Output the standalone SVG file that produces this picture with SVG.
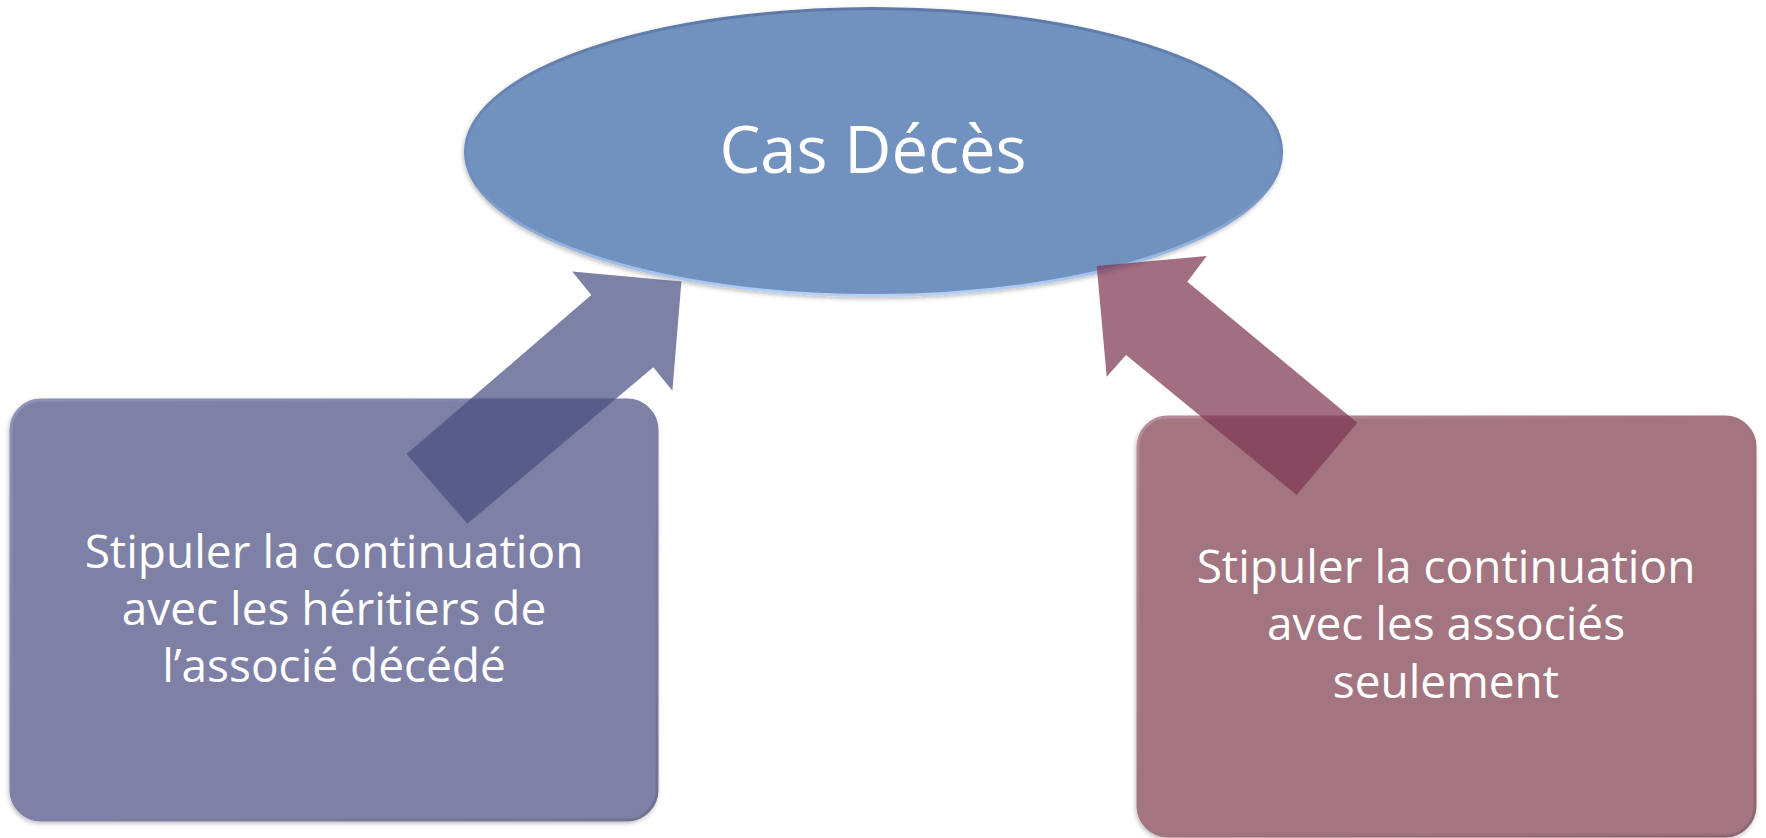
<svg xmlns="http://www.w3.org/2000/svg" width="1766" height="838" viewBox="0 0 1766 838">
  <defs>
    <linearGradient id="ellStroke" x1="0" y1="0" x2="0" y2="1">
      <stop offset="0" stop-color="#5E79A6"/>
      <stop offset="0.6" stop-color="#6F8DBD"/>
      <stop offset="1" stop-color="#B4D0F6"/>
    </linearGradient>
    <linearGradient id="leftStroke" x1="0" y1="0" x2="1" y2="1">
      <stop offset="0" stop-color="#8F91BA"/>
      <stop offset="0.5" stop-color="#7E80A5"/>
      <stop offset="1" stop-color="#6F7194"/>
    </linearGradient>
    <linearGradient id="rightStroke" x1="0" y1="0" x2="1" y2="1">
      <stop offset="0" stop-color="#B68A98"/>
      <stop offset="0.5" stop-color="#A27480"/>
      <stop offset="1" stop-color="#906470"/>
    </linearGradient>
    <filter id="soft" x="-5%" y="-5%" width="110%" height="110%">
      <feDropShadow dx="-1" dy="2" stdDeviation="2" flood-color="#000" flood-opacity="0.25"/>
    </filter>
  </defs>
  <style>
    .lbl { font-family: "Open Sans", "Noto Sans", sans-serif; fill: #FFFFFF; text-anchor: middle; }
    .big { font-size: 65px; }
    .box { font-size: 46px; }
  </style>
  <rect width="1766" height="838" fill="#FFFFFF"/>

  <g id="node-cas-deces">
    <ellipse cx="873.5" cy="152" rx="408" ry="143.5" fill="#7191BF" stroke="url(#ellStroke)" stroke-width="3" filter="url(#soft)"/>
    <text class="lbl big" x="873" y="173">Cas Décès</text>
  </g>

  <g id="node-heritiers">
    <rect x="11" y="400" width="646" height="420" rx="30" ry="30" fill="#7E80A5" stroke="url(#leftStroke)" stroke-width="3" filter="url(#soft)"/>
    <text class="lbl box" x="334" y="568">Stipuler la continuation</text>
    <text class="lbl box" x="334" y="625">avec les héritiers de</text>
    <text class="lbl box" x="334" y="682">l’associé décédé</text>
  </g>

  <g id="node-associes">
    <rect x="1138" y="417" width="617" height="419" rx="30" ry="30" fill="#A27480" stroke="url(#rightStroke)" stroke-width="3" filter="url(#soft)"/>
    <text class="lbl box" x="1446" y="583">Stipuler la continuation</text>
    <text class="lbl box" x="1446" y="640">avec les associés</text>
    <text class="lbl box" x="1446" y="698">seulement</text>
  </g>

  <g id="connectors">
    <polygon points="406.6,453.9 591.3,295.1 572.2,271.4 681.4,281.6 672.4,390.8 653.3,367.2 467.4,523.7" fill="#484E80" fill-opacity="0.71"/>
    <polygon points="1357.3,422.7 1187.3,281.7 1206.7,256 1096.7,266 1106.7,376.7 1126,355 1296.7,495" fill="#7E3852" fill-opacity="0.72"/>
  </g>
</svg>
